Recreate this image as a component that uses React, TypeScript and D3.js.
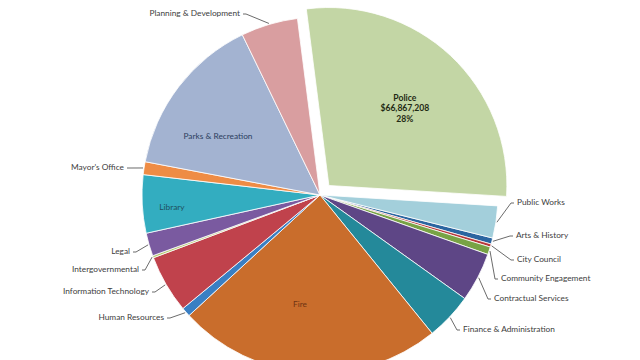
import React, { useRef, useEffect } from "react";
import * as d3 from "d3";

// Budget by department (alphabetical, like the source sheet)
const departments = [
  "Arts & History",
  "City Council",
  "Community Engagement",
  "Contractual Services",
  "Finance & Administration",
  "Fire",
  "Human Resources",
  "Information Technology",
  "Intergovernmental",
  "Legal",
  "Library",
  "Mayor's Office",
  "Parks & Recreation",
  "Planning & Development",
  "Police",
  "Public Works",
];

const budget = [
  1325000, 663000, 1657000, 10670000, 10206000, 57324000, 1988000, 12591000,
  464000, 5000000, 12600000, 2783000, 35389000, 12326000, 66867208, 6958000,
];

const sliceColors = [
  "#2b65a0", "#b8373a", "#78a345", "#5e4686", "#24899a", "#c96d2c",
  "#3a7fc3", "#c0424c", "#b3c96e", "#7a5aa0", "#33adc0", "#ee8c45",
  "#a3b3d1", "#d99ea0", "#c3d6a5", "#a3cfdb",
];

const WIDTH = 640;
const HEIGHT = 360;

// where each label goes; inside labels are centred, the rest sit by a leader line
const labelLayout: Record<string, { x: number; y: number; side: "left" | "right" | "inside"; color?: string }> = {
  "Planning & Development": { x: 240, y: 13, side: "left" },
  "Mayor's Office": { x: 124, y: 167, side: "left" },
  "Legal": { x: 130, y: 251, side: "left" },
  "Intergovernmental": { x: 139, y: 269, side: "left" },
  "Information Technology": { x: 149, y: 291, side: "left" },
  "Human Resources": { x: 164, y: 317, side: "left" },
  "Public Works": { x: 517, y: 202, side: "right" },
  "Arts & History": { x: 516, y: 235, side: "right" },
  "City Council": { x: 517, y: 259, side: "right" },
  "Community Engagement": { x: 501, y: 278, side: "right" },
  "Contractual Services": { x: 494, y: 298, side: "right" },
  "Finance & Administration": { x: 463, y: 329, side: "right" },
  "Parks & Recreation": { x: 218, y: 136, side: "inside", color: "#2c405f" },
  "Library": { x: 172, y: 207, side: "inside", color: "#1f4f5e" },
  "Fire": { x: 300, y: 304, side: "inside", color: "#6e3413" },
};

const explodedSlice = "Police";

export default function App() {
  const svgRef = useRef<SVGSVGElement>(null);

  useEffect(() => {
    if (!svgRef.current) return;
    const svg = d3.select(svgRef.current);
    svg.selectAll("*").remove();

    const cx = 320;
    const cy = 195;
    const radius = 178;
    const explode = 13;
    const font = "Lato, 'Open Sans', sans-serif";
    const fontSize = "8.3px";

    const items = departments.map((name, i) => ({ name, value: budget[i], color: sliceColors[i] }));
    const total = d3.sum(budget);

    const startDeg = 104;
    const pie = d3
      .pie<any>()
      .sort(null)
      .value((d) => d.value)
      .startAngle((startDeg * Math.PI) / 180)
      .endAngle(((startDeg + 360) * Math.PI) / 180);

    const arcs = pie(items);
    const arc = d3.arc<any>().innerRadius(0).outerRadius(radius);

    const g = svg.append("g").attr("transform", `translate(${cx},${cy})`);

    const offsetOf = (a: any) => {
      if (a.data.name !== explodedSlice) return [0, 0];
      const mid = (a.startAngle + a.endAngle) / 2;
      return [explode * Math.sin(mid), -explode * Math.cos(mid)];
    };

    // slices
    g.selectAll("path.slice")
      .data(arcs)
      .join("path")
      .attr("class", "slice")
      .attr("d", arc)
      .attr("transform", (a) => {
        const [dx, dy] = offsetOf(a);
        return `translate(${dx},${dy})`;
      })
      .attr("fill", (a) => a.data.color)
      .attr("stroke", "#ffffff")
      .attr("stroke-width", 0.8)
      .attr("stroke-linejoin", "round");

    // leader lines + outside labels
    arcs.forEach((a) => {
      const lay = labelLayout[a.data.name];
      if (!lay) return;
      if (lay.side === "inside") {
        svg
          .append("text")
          .attr("x", lay.x)
          .attr("y", lay.y)
          .attr("text-anchor", "middle")
          .attr("dominant-baseline", "central")
          .style("font-family", font)
          .style("font-size", fontSize)
          .style("fill", lay.color || "#333")
          .text(a.data.name);
        return;
      }
      const mid = (a.startAngle + a.endAngle) / 2;
      const px = cx + (radius + 1) * Math.sin(mid);
      const py = cy - (radius + 1) * Math.cos(mid);
      const dir = lay.side === "left" ? 1 : -1;
      const ex = lay.x + dir * 3;
      const elbow = lay.x + dir * 6;
      svg
        .append("polyline")
        .attr("points", `${px},${py} ${elbow},${lay.y + 1} ${ex},${lay.y + 1}`)
        .attr("fill", "none")
        .attr("stroke", "#5a5a5a")
        .attr("stroke-width", 0.9);
      svg
        .append("text")
        .attr("x", lay.x)
        .attr("y", lay.y)
        .attr("text-anchor", lay.side === "left" ? "end" : "start")
        .attr("dominant-baseline", "central")
        .style("font-family", font)
        .style("font-size", fontSize)
        .style("fill", "#404040")
        .text(a.data.name);
    });

    // exploded slice label: name, amount, share
    const police = arcs.find((a) => a.data.name === explodedSlice)!;
    const [pdx, pdy] = offsetOf(police);
    const labelArc = d3.arc<any>().innerRadius(radius * 0.6).outerRadius(radius * 0.6);
    const [lx, ly] = labelArc.centroid(police);
    const lines = [
      police.data.name,
      d3.format("$,.0f")(police.data.value),
      d3.format(".0%")(police.data.value / total),
    ];
    const t = svg
      .append("text")
      .attr("text-anchor", "middle")
      .style("font-family", font)
      .style("font-size", "8.6px")
      .style("font-weight", "bold")
      .style("fill", "#1f2a14");
    lines.forEach((s, i) => {
      t.append("tspan")
        .attr("x", cx + pdx + lx + 3)
        .attr("y", cy + pdy + ly - 10 + i * 10.5)
        .attr("dominant-baseline", "central")
        .text(s);
    });
  }, []);

  return (
    <div style={{ position: "absolute", left: 0, top: 0 }}>
      <svg ref={svgRef} width={WIDTH} height={HEIGHT} viewBox={`0 0 ${WIDTH} ${HEIGHT}`} style={{ display: "block", background: "#fff" }} />
    </div>
  );
}
